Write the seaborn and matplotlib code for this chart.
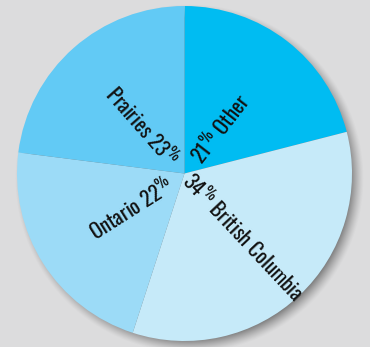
import numpy as np
import matplotlib
matplotlib.use("Agg")
import matplotlib.pyplot as plt
import seaborn as sns

# Regional share of the total, clockwise from 12 o'clock
regions = ["Other", "British Columbia", "Ontario", "Prairies"]
shares = [21, 34, 22, 23]
colors = ["#00bcf2", "#c6eaf9", "#9cdbf7", "#62caf5"]

sns.set_theme(style="white")
FONT = ["Oswald", "Antonio", "DejaVu Sans"]
plt.rcParams["font.family"] = FONT
plt.rcParams["mathtext.fontset"] = "custom"
plt.rcParams["mathtext.rm"] = "Oswald:light"
plt.rcParams["mathtext.it"] = "Oswald:light"

BG = "#dcdcdd"
W, H = 370, 347
fig = plt.figure(figsize=(W / 100, H / 100), dpi=100, facecolor=BG)
ax = fig.add_axes([0, 0, 1, 1])
ax.set_facecolor(BG)

cx, cy, R = 184.5, 173.5, 167.5

# soft drop shadow below and to the right of the disc
yy, xx = np.mgrid[0:H, 0:W] + 0.5
d = np.hypot(xx - (cx + 5), (H - yy) - (cy - 5))
soft = 7.0
alpha = np.clip((R + soft - d) / (2 * soft), 0, 1) ** 1.3 * 0.6
shadow = np.zeros((H, W, 4))
shadow[..., :3] = 0.25
shadow[..., 3] = alpha
ax.imshow(shadow, extent=(0, W, 0, H), origin="upper", zorder=0)

wedges, _ = ax.pie(shares, colors=colors, startangle=90, counterclock=False,
                   center=(cx, cy), radius=R,
                   wedgeprops=dict(linewidth=0))
for w in wedges:
    w.set_zorder(1)

offsets = [17, 4, 16, 15]
for w, name, val, r0 in zip(wedges, regions, shares, offsets):
    mid = np.deg2rad((w.theta1 + w.theta2) / 2)
    x = cx + r0 * np.cos(mid)
    y = cy + r0 * np.sin(mid)
    ang = np.rad2deg(mid)
    pct = f"{val}" + r"$^{\%}$"
    if np.cos(mid) >= 0:
        txt, ha, rot = f"{pct} {name}", "left", ang
    else:
        txt, ha, rot = f"{name} {pct}", "right", ang - 180
    ax.text(x, y, txt, rotation=rot, rotation_mode="anchor", ha=ha,
            va="center", fontsize=15, fontweight=200, color="#111111",
            zorder=3)

ax.set_xlim(0, W)
ax.set_ylim(0, H)
ax.set_aspect("equal")
ax.axis("off")
fig.savefig("out.png", dpi=100, facecolor=BG)
